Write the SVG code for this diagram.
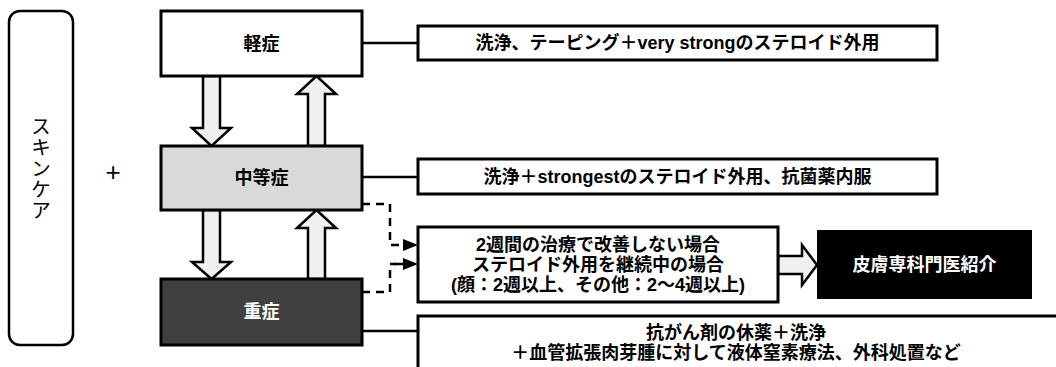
<svg xmlns="http://www.w3.org/2000/svg" width="1056" height="367" viewBox="0 0 1056 367">
<defs>
<style>
.t{font-family:"Liberation Sans Narrow","Liberation Sans","Noto Sans CJK JP",sans-serif;font-weight:bold;font-size:18px;text-anchor:middle;dominant-baseline:central;fill:#000}
.w{fill:#fff}
.box{stroke:#000;stroke-width:3;fill:#fff}
.arr{fill:#f0f0f0;stroke:#000;stroke-width:2.5;stroke-linejoin:miter}
.ln{stroke:#000;stroke-width:2.5;fill:none}
.dash{stroke:#000;stroke-width:2.5;fill:none;stroke-dasharray:8 6}
</style>
</defs>
<rect width="1056" height="367" fill="#fff"/>

<g id="skincare">
<rect x="9" y="11" width="64" height="334" rx="11" ry="11" fill="#fff" stroke="#000" stroke-width="2.5"/>
<text x="41" y="116" writing-mode="vertical-rl" font-family="'Noto Sans CJK JP',sans-serif" font-size="20" letter-spacing="1">スキンケア</text>
</g>
<g id="plus"><text x="113" y="172" font-family="'Liberation Sans',sans-serif" font-size="26" text-anchor="middle" dominant-baseline="central">+</text></g>

<g id="connectors">
<line class="ln" x1="362" y1="43" x2="418" y2="43"/>
<line class="ln" x1="362" y1="177" x2="418" y2="177"/>
<line class="ln" x1="362" y1="331" x2="418" y2="331"/>
<path class="dash" d="M362,204 H390 V245 H403"/>
<path class="dash" d="M362,292 H390 V264 H396"/>
<path d="M403,239 L418,245 L403,251 z" fill="#000"/>
<path d="M403,258 L418,264 L403,270 z" fill="#000"/>
<line x1="394" y1="264" x2="405" y2="264" stroke="#000" stroke-width="2.5"/>
<polygon class="arr" points="203,76 220,76 220,128 231,128 211.5,146 192,128 203,128"/>
<polygon class="arr" points="308,146 325,146 325,94 336,94 316.5,76 297,94 308,94"/>
<polygon class="arr" points="203,210 220,210 220,262 231,262 211.5,279 192,262 203,262"/>
<polygon class="arr" points="308,279 325,279 325,228 336,228 316.5,210 297,228 308,228"/>
<polygon class="arr" points="778,256 802,256 802,245 817,265 802,285 802,274 778,274"/>
</g>

<g id="mild">
<rect class="box" x="161" y="11" width="201" height="65"/>
<text class="t" x="261.5" y="44">軽症</text>
</g>
<g id="moderate">
<rect class="box" x="161" y="146" width="201" height="64" style="fill:#d9d9d9"/>
<text class="t" x="261.5" y="178">中等症</text>
</g>
<g id="severe">
<rect class="box" x="161" y="279" width="201" height="66" style="fill:#404040"/>
<text class="t w" x="261.5" y="312">重症</text>
</g>

<g id="tx-mild">
<rect class="box" x="418" y="26" width="519" height="34"/>
<text class="t" x="677.5" y="43">洗浄、テーピング＋very strongのステロイド外用</text>
</g>
<g id="tx-moderate">
<rect class="box" x="418" y="159" width="519" height="35"/>
<text class="t" x="677.5" y="177">洗浄＋strongestのステロイド外用、抗菌薬内服</text>
</g>
<g id="condition">
<rect class="box" x="418" y="227" width="360" height="75"/>
<text class="t" x="598" y="245">2週間の治療で改善しない場合</text>
<text class="t" x="598" y="265">ステロイド外用を継続中の場合</text>
<text class="t" x="598" y="285">(顔：2週以上、その他：2〜4週以上)</text>
</g>
<g id="referral">
<rect x="818" y="231" width="213" height="67" fill="#000" stroke="#000" stroke-width="2"/>
<text class="t w" x="924.5" y="265">皮膚専科門医紹介</text>
</g>
<g id="tx-severe">
<rect class="box" x="418" y="316" width="642" height="60"/>
<text class="t" x="736" y="333">抗がん剤の休薬＋洗浄</text>
<text class="t" x="736" y="353">＋血管拡張肉芽腫に対して液体窒素療法、外科処置など</text>
</g>
</svg>
